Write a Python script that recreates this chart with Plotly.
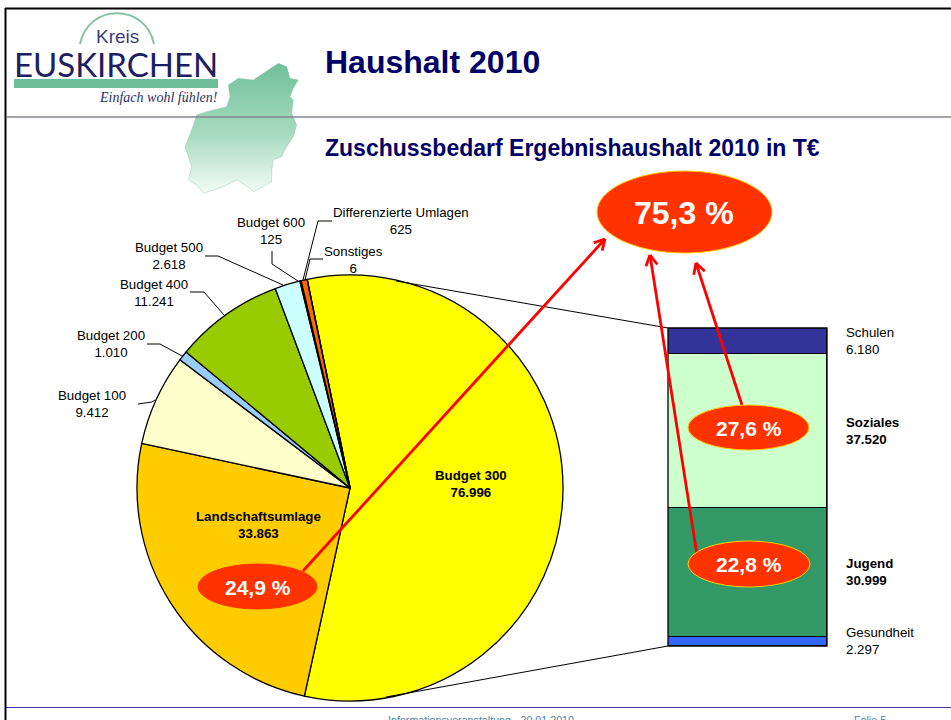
import math
import plotly.graph_objects as go

# ---- data ----
pie_names = ["Budget 300", "Landschaftsumlage", "Budget 100", "Budget 200", "Budget 400",
             "Budget 500", "Budget 600", "Differenzierte Umlagen", "Sonstiges"]
pie_values = [76996, 33863, 9412, 1010, 11241, 2618, 125, 625, 6]
bar_names = ["Gesundheit", "Jugend", "Soziales", "Schulen"]
bar_values = [2297, 30999, 37520, 6180]
title_text = "Haushalt 2010"
subtitle_text = "Zuschussbedarf Ergebnishaushalt 2010 in T€"
percent_labels = ["75,3 %", "27,6 %", "22,8 %", "24,9 %"]
footer_left = "Informationsveranstaltung - 20.01.2010"
footer_right = "Folie 5"

# ---- styles / positions (pixel layout of the slide) ----
W, H = 951, 720
FONT = "Liberation Sans"
NAVY = "#000066"
pie_colors = ["#FFFF00", "#FFCC00", "#FFFFCC", "#99CCFF", "#99CC00", "#CCFFFF", "#FF6600", "#FF6600", "#FFFFFF"]
bar_colors = ["#3366FF", "#339966", "#CCFFCC", "#333399"]
pie_box = (137, 563, 275, 701)
bar_box = (668, 827, 328, 646)

pie_label_pos = {
    "Budget 300": (471, 484, True), "Landschaftsumlage": (258, 524.5, True),
    "Budget 100": (92, 403.5, False), "Budget 200": (111, 343.5, False),
    "Budget 400": (154, 292.5, False), "Budget 500": (169, 256, False),
    "Budget 600": (271, 231, False), "Differenzierte Umlagen": (401, 221, False),
    "Sonstiges": (353, 260, False),
}
bar_label_pos = {
    "Schulen": (341, False), "Soziales": (431, True),
    "Jugend": (571.5, True), "Gesundheit": (640.5, False),
}
leaders = [
    [(138, 404), (152, 402), (155, 400)],
    [(147, 344), (160, 344), (182, 356)],
    [(190, 292), (204, 292), (224, 315)],
    [(205, 256), (218, 256), (283, 285)],
    [(272, 251), (272, 264), (298, 281)],
    [(332, 221), (318, 221), (303, 280)],
    [(323, 259), (310, 259), (305, 280)],
    [(396, 281), (668, 328)],
    [(668, 646), (386, 697)],
]
arrows = [((303, 571), (605, 239)), ((697, 555), (650, 255)), ((742, 405), (696, 263))]
ellipses = [
    (597, 772, 171, 253, 684, 213, 32, "#FFCC00"),
    (688, 809, 405, 450, 749, 428, 21, "#FFCC00"),
    (688, 810, 541, 587, 749, 564, 21, "#FFCC00"),
    (198, 317, 564, 609, 258, 587, 21, "#FF3300"),
]
map_zoom = [(835,190),(860,200),(870,235),(895,240),(880,265),(870,290),(880,300),(875,340),
            (890,375),(880,410),(860,440),(845,470),(820,480),(815,510),(815,545),(790,560),
            (760,575),(750,565),(710,540),(670,560),(610,580),(590,555),(565,540),(575,500),
            (555,440),(575,390),(590,345),(620,335),(680,320),(690,290),(685,255),(715,235),
            (760,240),(790,220),(815,205),(835,190)]


def fmt(v):
    return f"{v:,}".replace(",", ".")


fig = go.Figure()

fig.add_trace(go.Pie(
    labels=pie_names, values=pie_values, sort=False, direction="clockwise", rotation=-11.6,
    marker=dict(colors=pie_colors, line=dict(color="black", width=1.3)),
    textinfo="none", hoverinfo="label+value", showlegend=False,
    domain=dict(x=[pie_box[0] / W, pie_box[1] / W], y=[1 - pie_box[3] / H, 1 - pie_box[2] / H]),
))

for n, v, c in zip(bar_names, bar_values, bar_colors):
    fig.add_trace(go.Bar(x=[0], y=[v], name=n, width=1, showlegend=False, cliponaxis=False,
                         marker=dict(color=c, line=dict(color="black", width=1.2)),
                         xaxis="x", yaxis="y"))

# county silhouette, gradient filled, on the pixel overlay axes
fig.add_trace(go.Scatter(
    x=[p[0] / 3 for p in map_zoom], y=[p[1] / 3 for p in map_zoom], mode="lines", fill="toself",
    line=dict(color="rgba(120,190,160,0.35)", width=1), hoverinfo="skip", showlegend=False,
    fillgradient=dict(type="vertical", colorscale=[[0, "#F4FBF7"], [0.45, "#A8DBC0"], [1, "#6FC09C"]]),
    xaxis="x2", yaxis="y2",
))

shapes = []
anns = []


def line(x0, y0, x1, y1, color, width):
    shapes.append(dict(type="line", xref="x2", yref="y2", x0=x0, y0=y0, x1=x1, y1=y1,
                       line=dict(color=color, width=width)))


def text(x, y, s, size, color="black", bold=False, xanchor="center", family=FONT, **kw):
    anns.append(dict(xref="x2", yref="y2", x=x, y=y, text=s, showarrow=False, xanchor=xanchor,
                     yanchor="middle", align="center" if xanchor == "center" else "left",
                     font=dict(family=family, size=size, color=color,
                               weight="bold" if bold else "normal", **kw)))


def footer(x, s):
    anns.append(dict(xref="x2", yref="paper", x=x, y=1 - 711.5 / H, text=s, showarrow=False,
                     xanchor="center", yanchor="top",
                     font=dict(family=FONT, size=10.7, color="#4F7FB0")))


# slide furniture
line(5.5, 8, 5.5, 720, "black", 2)
line(5, 8.5, 951, 8.5, "black", 2)
line(6, 117, 951, 117, "#85858F", 1.5)
line(6, 707.5, 951, 707.5, "#3333AA", 1)

# logo
shapes.append(dict(type="path", xref="x2", yref="y2", path="M 80 44 C 88 3, 146 3, 154 44",
                   line=dict(color="#86C4A4", width=2)))
shapes.append(dict(type="rect", xref="x2", yref="y2", x0=14, x1=218, y0=79, y1=88,
                   fillcolor="#6FBE9A", line=dict(width=0)))
text(117, 36.5, "Kreis", 19, color="#3A3F78")
text(116, 64, "EUSKIRCHEN", 33, color="#1C2060", family="Lato")
text(158, 97, "Einfach wohl fühlen!", 14, color="#2A2F68", family="Liberation Serif", style="italic")

# titles
text(323, 62, title_text, 32, color=NAVY, bold=True, xanchor="left")
text(323, 148, subtitle_text, 23, color=NAVY, bold=True, xanchor="left")

# leader lines
for pts in leaders:
    for a, b in zip(pts, pts[1:]):
        line(a[0], a[1], b[0], b[1], "black", 1)

# outline of the stacked column
shapes.append(dict(type="rect", xref="x2", yref="y2", x0=bar_box[0], x1=bar_box[1],
                   y0=bar_box[2], y1=bar_box[3], line=dict(color="black", width=1.3),
                   fillcolor="rgba(0,0,0,0)"))

# pie labels
for n, v in zip(pie_names, pie_values):
    x, y, b = pie_label_pos[n]
    text(x, y, f"{n}<br>{fmt(v)}", 13.3, bold=b)

# bar labels
for n, v in zip(bar_names, bar_values):
    y, b = bar_label_pos[n]
    text(844, y, f"{n}<br>{fmt(v)}", 13.3, bold=b, xanchor="left")

# arrows
for (x0, y0), (x1, y1) in arrows:
    line(x0, y0, x1, y1, "#FF0000", 2.8)
    ang = math.atan2(y0 - y1, x0 - x1)
    for d in (-0.5, 0.5):
        line(x1, y1, x1 + 12 * math.cos(ang + d), y1 + 12 * math.sin(ang + d), "#FF0000", 2.8)

# percentage bubbles
for lab, (x0, x1, y0, y1, tx, ty, size, edge) in zip(percent_labels, ellipses):
    shapes.append(dict(type="circle", xref="x2", yref="y2", x0=x0, x1=x1, y0=y0, y1=y1,
                       fillcolor="#FF3300", line=dict(color=edge, width=1)))
    text(tx, ty, lab, size, color="white", bold=True)

# footer
footer(481, footer_left)
footer(870, footer_right)

fig.update_layout(
    width=W, height=H, margin=dict(l=0, r=0, t=0, b=0), autosize=False,
    paper_bgcolor="white", plot_bgcolor="rgba(0,0,0,0)", barmode="stack", bargap=0,
    showlegend=False, shapes=shapes, annotations=anns,
    xaxis=dict(domain=[bar_box[0] / W, bar_box[1] / W], range=[-0.5, 0.5], visible=False, fixedrange=True),
    yaxis=dict(domain=[1 - bar_box[3] / H, 1 - bar_box[2] / H], range=[0, sum(bar_values)], visible=False, fixedrange=True),
    xaxis2=dict(domain=[0, 1], range=[0, W], visible=False, fixedrange=True, anchor="y2"),
    yaxis2=dict(domain=[0, 1], range=[H, 0], visible=False, fixedrange=True, anchor="x2"),
)

fig.write_html("out.html", config=dict(displayModeBar=False),
               post_script="document.body.style.margin='0';document.body.style.overflow='hidden';")
